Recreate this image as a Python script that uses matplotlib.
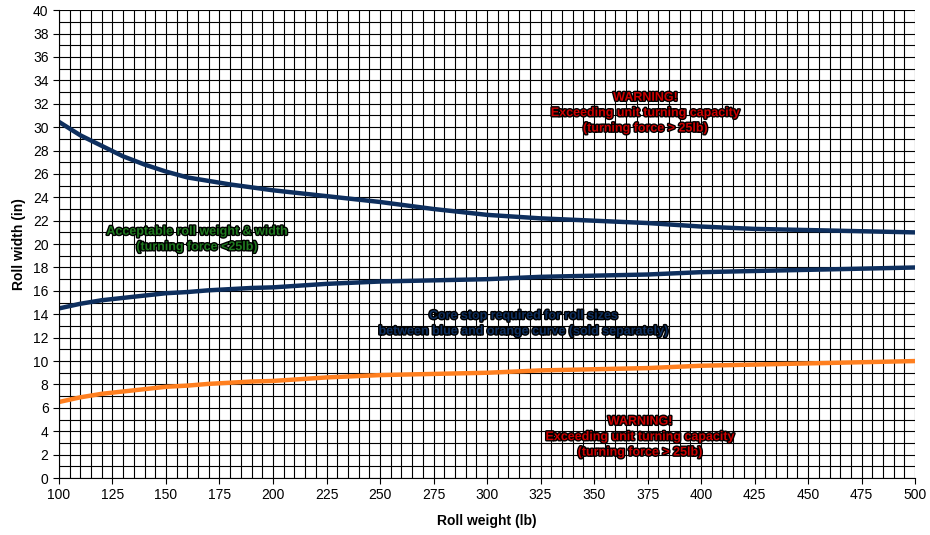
import matplotlib.pyplot as plt
import matplotlib.patheffects as pe
import numpy as np

plt.rcParams['font.family'] = ['Liberation Sans', 'DejaVu Sans']

weight = [100, 110, 120, 130, 140, 150, 160, 170, 180, 190, 200, 225, 250, 275, 300, 325, 350, 375, 400, 425, 450, 475, 500]
upper = [30.45, 29.3, 28.4, 27.5, 26.8, 26.2, 25.7, 25.4, 25.1, 24.85, 24.6, 24.1, 23.6, 23.0, 22.5, 22.2, 22.0, 21.8, 21.5, 21.3, 21.2, 21.1, 21.0]
middle = [14.5, 14.9, 15.2, 15.4, 15.6, 15.8, 15.9, 16.05, 16.15, 16.25, 16.3, 16.6, 16.8, 16.9, 17.0, 17.2, 17.3, 17.4, 17.6, 17.7, 17.8, 17.9, 18.0]
lower = [6.5, 6.9, 7.2, 7.4, 7.6, 7.8, 7.9, 8.05, 8.15, 8.25, 8.3, 8.6, 8.8, 8.9, 9.0, 9.2, 9.3, 9.4, 9.6, 9.7, 9.8, 9.9, 10.0]

fig = plt.figure(figsize=(9.3, 5.35), dpi=100)
ax = fig.add_axes([0.0634, 0.1065, 0.9206, 0.8745])

ax.plot(weight, upper, color='#0e2f5e', lw=3.2, solid_capstyle='butt')
ax.plot(weight, middle, color='#0e2f5e', lw=3.2, solid_capstyle='butt')
ax.plot(weight, lower, color='#ff7f1f', lw=3.2, solid_capstyle='butt')

ax.set_xlim(100, 500)
ax.set_ylim(0, 40)
ax.set_xticks(np.arange(100, 501, 25))
ax.set_yticks(np.arange(0, 41, 2))
ax.set_xticks(np.arange(100, 501, 5), minor=True)
ax.set_yticks(np.arange(0, 41, 1), minor=True)
ax.grid(True, which='both', color='black', lw=0.8)
ax.tick_params(which='minor', length=0)
ax.tick_params(which='major', length=4, labelsize=10, direction='out')
for s in ['top', 'right']:
    ax.spines[s].set_visible(False)
ax.set_xlabel('Roll weight (lb)', fontsize=10, fontweight='bold', labelpad=8)
ax.set_ylabel('Roll width (in)', fontsize=10, fontweight='bold', labelpad=5)

stroke = [pe.withStroke(linewidth=2.0, foreground='black')]

def note(x, y, txt, col):
    ax.text(x, y, txt, color=col, fontsize=9, fontweight='bold', ha='center',
            va='center', linespacing=1.38, path_effects=stroke)

note(374, 31.2, 'WARNING!\nExceeding unit turning capacity\n(turning force > 25lb)', '#cc0000')
note(164.5, 20.4, 'Acceptable roll weight & width\n(turning force <25lb)', '#1f7a1f')
note(317, 13.2, 'Core stop required for roll sizes\nbetween blue and orange curve (sold separately)', '#0e2f5e')
note(371.5, 3.5, 'WARNING!\nExceeding unit turning capacity\n(turning force > 25lb)', '#cc0000')

fig.savefig('out.png', dpi=100)
